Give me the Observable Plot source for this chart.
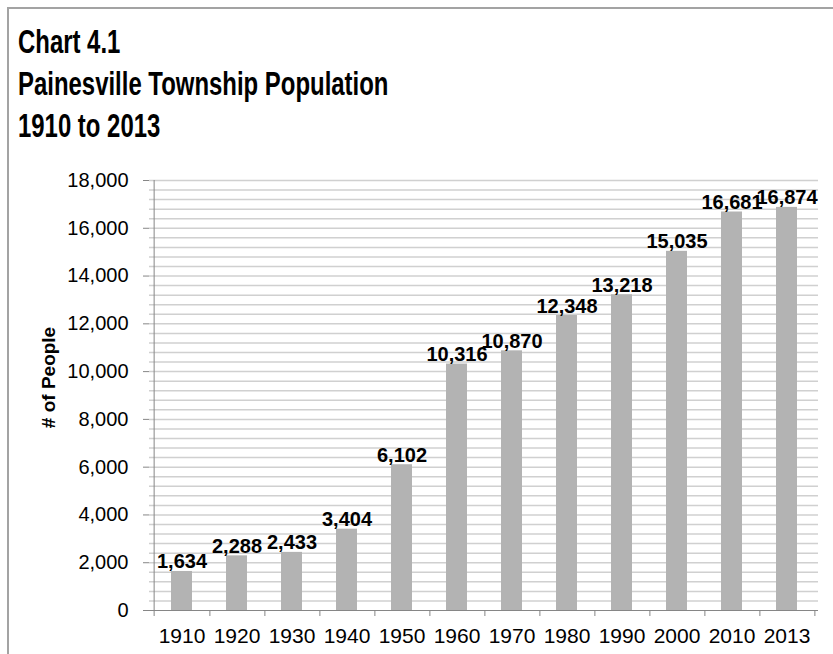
<!DOCTYPE html>
<html><head><meta charset="utf-8">
<script src="https://cdn.jsdelivr.net/npm/d3@7"></script>
<script src="https://cdn.jsdelivr.net/npm/@observablehq/plot@0.6"></script>
<style>
body{margin:0;background:#fff;}
#wrap{position:relative;width:833px;height:654px;overflow:hidden;background:#fff;font-family:"Liberation Sans",Arial,sans-serif;}
#frame{position:absolute;left:7px;top:7px;width:1000px;height:1000px;border:2px solid #a3a3a3;box-sizing:border-box;pointer-events:none}
#title{position:absolute;left:18px;top:21px;font-weight:bold;font-size:33px;line-height:42px;transform:scaleX(0.725);transform-origin:0 0;white-space:nowrap;color:#000}
#chart{position:absolute;left:0;top:160px}
</style></head><body>
<div id="wrap"><div id="title">Chart 4.1<br>Painesville Township Population<br>1910 to 2013</div><div id="chart"></div><div id="frame"></div></div>
<script>
const years = ["1910","1920","1930","1940","1950","1960","1970","1980","1990","2000","2010","2013"];
const population = [1634,2288,2433,3404,6102,10316,10870,12348,13218,15035,16681,16874];
const yTicks = [0,2000,4000,6000,8000,10000,12000,14000,16000,18000];
const yTitle = "# of People";

const W = 833, H = 494, mL = 149, mR = 15, mT = 20, mB = 44;
const band = (W - mL - mR) / years.length;
const data = years.map((y, i) => ({year: y, value: population[i]}));
const fmt = d3.format(",");
const axisColor = "#868686";

const chart = Plot.plot({
  width: W, height: H,
  marginLeft: mL, marginRight: mR, marginTop: mT, marginBottom: mB,
  style: {fontFamily: "Liberation Sans, Arial, sans-serif", background: "transparent", overflow: "visible", color: "#000"},
  x: {domain: years, padding: 0},
  y: {domain: [0, 18000]},
  marks: [
    Plot.ruleY(d3.range(400, 18001, 400), {stroke: "#d0d0d0", strokeWidth: 1.5}),
    Plot.barY(data, {x: "year", y: "value", fill: "#b3b3b3", insetLeft: 17, insetRight: 17}),
    Plot.ruleY([0], {stroke: axisColor}),
    Plot.ruleX([years[0]], {dx: -band / 2, stroke: axisColor}),
    Plot.axisY(yTicks, {tickSize: 6, tickPadding: 15, tickFormat: fmt, fontSize: 20, stroke: axisColor, label: null}),
    Plot.axisX({tickSize: 0, tickPadding: 18, fontSize: 21, label: null}),
    Plot.axisX({text: null, tickSize: 6, dx: band / 2, stroke: axisColor, label: null}),
    Plot.axisX([years[0]], {text: null, tickSize: 6, dx: -band / 2, stroke: axisColor, label: null}),
    Plot.text(data, {x: "year", y: "value", text: d => fmt(d.value), lineAnchor: "bottom", dy: -3, fontSize: 20, fontWeight: "bold", fill: "#000"}),
    Plot.text([yTitle], {frameAnchor: "left", text: d => d, rotate: -90, textAnchor: "middle", dx: -101, dy: -18, fontSize: 19, fontWeight: "bold", fill: "#000"})
  ]
});
document.getElementById("chart").append(chart);
</script>
</body></html>
